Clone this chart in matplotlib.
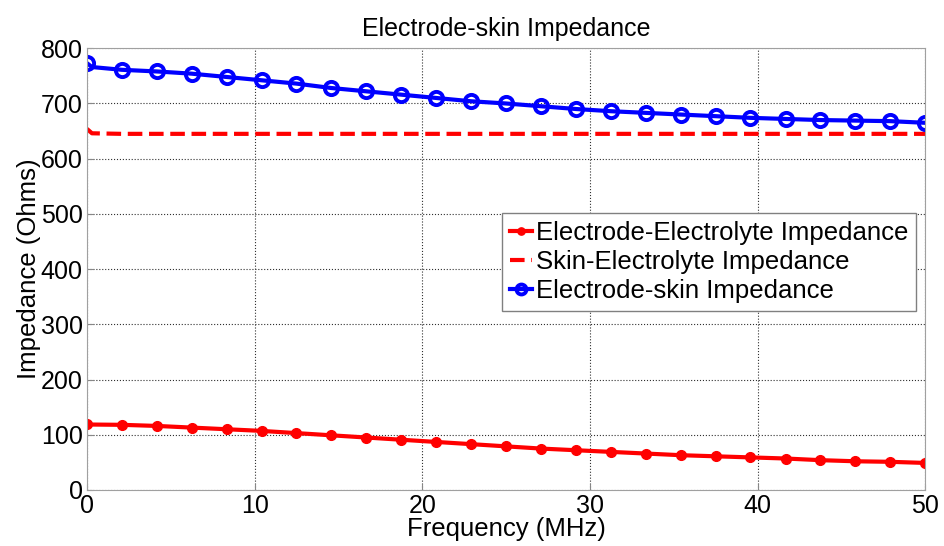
import matplotlib
matplotlib.use("Agg")
import matplotlib.pyplot as plt

plt.rcParams['font.family'] = ['Liberation Sans', 'DejaVu Sans']

# frequency points (MHz); second entry is the short start-up step of the curves
freq = [0, 0.3, 2.08, 4.17, 6.25, 8.33, 10.42, 12.5, 14.58, 16.67, 18.75, 20.83,
        22.92, 25.0, 27.08, 29.17, 31.25, 33.33, 35.42, 37.5, 39.58, 41.67,
        43.75, 45.83, 47.92, 50.0]

electrode_electrolyte = [119, 118.5, 118, 116, 113, 110, 107, 103, 99, 95, 91, 87,
                         83, 79, 75, 72, 69, 66, 63, 61, 59, 57, 54, 52, 51, 49]
skin_electrolyte = [654, 646, 645, 645, 645, 645, 645, 645, 645, 645, 645, 645,
                    645, 645, 645, 645, 645, 645, 645, 645, 645, 645, 645, 645, 645, 645]
electrode_skin = [773, 766, 761, 758, 754, 748, 742, 736, 728, 722, 716, 710,
                  704, 700, 695, 690, 686, 683, 680, 677, 674, 672, 670, 669, 668, 665]

marks = [0] + list(range(2, len(freq)))

fig = plt.figure(figsize=(9.45, 5.46), dpi=100)
ax = fig.add_axes([0.092, 0.1026, 0.887, 0.809])

ax.plot(freq, electrode_electrolyte, color='red', lw=3, marker='o', ms=7,
        markevery=marks, label='Electrode-Electrolyte Impedance')
ax.plot(freq, skin_electrolyte, color='red', lw=3, ls=(0, (3.5, 1.6)),
        label='Skin-Electrolyte Impedance')
ax.plot(freq, electrode_skin, color='blue', lw=3, marker='o', ms=9.5, mew=2.8,
        mfc='none', markevery=marks, label='Electrode-skin Impedance')

ax.set_xlim(0, 50)
ax.set_ylim(0, 800)
ax.set_xticks(range(0, 51, 10))
ax.set_yticks(range(0, 801, 100))
ax.tick_params(direction='in', labelsize=18, length=4, color='#888888', pad=3)
ax.grid(True, ls=':', color='#303030', lw=0.8)
for s in ax.spines.values():
    s.set_color('#a0a0a0')

ax.set_title('Electrode-skin Impedance', fontsize=18, pad=9)
ax.set_xlabel('Frequency (MHz)', fontsize=18.5, labelpad=-1)
ax.set_ylabel('Impedance (Ohms)', fontsize=18.5, labelpad=0)

leg = ax.legend(loc='upper right', bbox_to_anchor=(0.989, 0.627), borderaxespad=0,
                fontsize=18.5, handlelength=0.85, handletextpad=0.15, labelspacing=0.2,
                fancybox=False, framealpha=1, borderpad=0.3, markerscale=0.75)
leg.get_frame().set_edgecolor('#808080')

fig.savefig('out.png', dpi=100)
